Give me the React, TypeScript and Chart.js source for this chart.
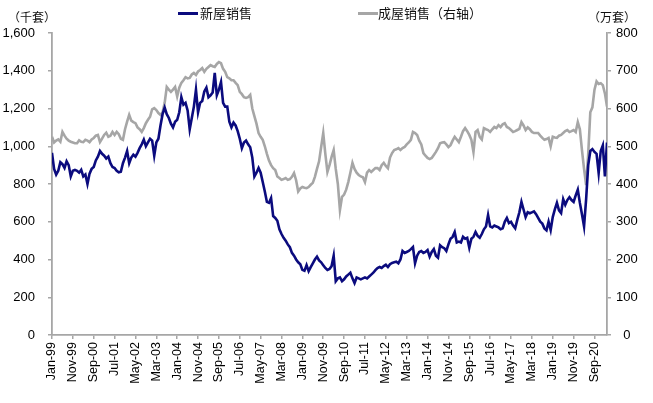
import React, { useEffect, useRef } from "react";
import { Chart, registerables } from "chart.js";

Chart.register(...registerables);

// Monthly, Jan 1999 – Mar 2021
const newHomeSales: number[] = [
  // 1999
  965, 880, 850, 870, 915, 905, 885, 920, 900, 840, 870, 875,
  // 2000
  870, 860, 875, 840, 850, 800, 855, 880, 890, 925, 945, 975,
  // 2001
  960, 950, 935, 945, 910, 890, 885, 870, 862, 865, 910, 940,
  // 2002
  975, 910, 940, 955, 945, 965, 990, 1010, 1035, 1000, 1020, 1040,
  // 2003
  1030, 950, 1020, 1040, 1110, 1170, 1205, 1170, 1150, 1120, 1100, 1130,
  // 2004
  1140, 1180, 1260, 1220, 1230, 1190, 1090, 1150, 1210, 1300, 1180, 1230,
  // 2005
  1240, 1290, 1310, 1260, 1270, 1285, 1389, 1270, 1300, 1340, 1230, 1210,
  // 2006
  1210, 1130, 1100, 1125, 1110, 1080, 1040, 990, 1020, 1030, 1010, 995,
  // 2007
  940, 840, 860, 885, 860, 811, 760, 705, 700, 725, 630, 620,
  // 2008
  605, 560, 535, 515, 500, 480, 465, 435, 420, 400, 385, 375,
  // 2009
  345, 340, 370, 338, 360, 380, 400, 415, 395, 385, 370, 355,
  // 2010
  345, 350, 365, 420, 285, 300, 305, 285, 295, 310, 320, 330,
  // 2011
  300, 275, 305, 300, 295, 300, 305, 300, 310, 320, 330, 344,
  // 2012
  355, 360, 355, 365, 372, 360, 375, 382, 385, 388, 380, 400,
  // 2013
  445, 435, 440, 445, 455, 466, 380, 420, 440, 445, 435, 440,
  // 2014
  450, 415, 440, 455, 420, 410, 475, 465, 460, 445, 480, 510,
  // 2015
  520, 545, 490, 495, 490, 520, 510, 515, 462, 510, 520, 546,
  // 2016
  525, 515, 535, 560, 575, 636, 575, 570, 580, 575, 570, 560,
  // 2017
  565, 600, 620, 593, 600, 580, 565, 610, 650, 705, 665, 625,
  // 2018
  650, 645, 650, 655, 640, 620, 600, 590, 565, 555, 600, 556,
  // 2019
  625, 665, 700, 660, 646, 720, 690, 715, 730, 715, 705, 740,
  // 2020
  770, 700, 640, 575, 720, 900, 975, 985, 970, 960, 858, 975,
  // 2021
  1005, 840, 1020,
];

const existingHomeSales: number[] = [
  // 1999
  525, 510, 515, 518, 512, 538, 528, 520, 515, 512, 510, 508,
  // 2000
  508, 516, 512, 511, 517, 515, 511, 518, 522, 528, 530, 511,
  // 2001
  520, 530, 536, 525, 528, 538, 530, 538, 532, 520, 517, 545,
  // 2002
  565, 583, 568, 564, 561, 550, 545, 538, 548, 561, 570, 578,
  // 2003
  598, 601, 596, 588, 583, 590, 615, 657, 650, 644, 650, 657,
  // 2004
  632, 655, 668, 675, 683, 680, 681, 690, 694, 689, 698, 702,
  // 2005
  707, 697, 705, 710, 715, 712, 710, 718, 723, 720, 705, 697,
  // 2006
  683, 680, 675, 675, 668, 662, 644, 638, 630, 628, 630, 636,
  // 2007
  600, 580, 560, 535, 525, 517, 500, 480, 462, 450, 442, 437,
  // 2008
  420, 416, 411, 413, 416, 411, 413, 419, 429, 410, 380, 388,
  // 2009
  392, 390, 389, 392, 398, 403, 419, 440, 460, 498, 535, 480,
  // 2010
  432, 450, 472, 490, 440, 400, 331, 366, 372, 385, 405, 430,
  // 2011
  456, 440, 430, 424, 420, 418, 405, 430, 437, 432, 437, 442,
  // 2012
  442, 437, 450, 456, 448, 442, 470, 482, 490, 492, 495, 490,
  // 2013
  495, 498, 505, 510, 517, 538, 535, 530, 515, 505, 482, 475,
  // 2014
  469, 466, 469, 477, 485, 495, 508, 510, 511, 505, 498, 503,
  // 2015
  515, 525, 518, 511, 525, 540, 548, 540, 530, 517, 485, 538,
  // 2016
  543, 525, 518, 548, 545, 543, 538, 545, 551, 548, 556, 551,
  // 2017
  558, 561, 551, 548, 543, 538, 540, 543, 546, 564, 555, 543,
  // 2018
  550, 545, 538, 535, 535, 535, 528, 522, 517, 519, 522, 500,
  // 2019
  525, 523, 522, 528, 530, 535, 540, 543, 538, 540, 543, 538,
  // 2020
  564, 545, 490, 440, 397, 480, 590, 603, 650, 672, 665, 667,
  // 2021
  662, 640, 605,
];

// one label every 10 months, starting Jan-99
const xTickLabels: string[] = [
  "Jan-99", "Nov-99", "Sep-00", "Jul-01", "May-02", "Mar-03", "Jan-04",
  "Nov-04", "Sep-05", "Jul-06", "May-07", "Mar-08", "Jan-09", "Nov-09",
  "Sep-10", "Jul-11", "May-12", "Mar-13", "Jan-14", "Nov-14", "Sep-15",
  "Jul-16", "May-17", "Mar-18", "Jan-19", "Nov-19", "Sep-20",
];

const seriesNames = ["新屋销售", "成屋销售（右轴）"];
const leftUnit = "（千套）";
const rightUnit = "（万套）";

const NAVY = "#0b0b7e";
const GRAY = "#a6a6a6";
const AXIS = "#a6a6a6";
const NUM_FONT = "'Liberation Sans', Arial, sans-serif";
const CJK_FONT = "'Noto Sans CJK SC', 'Noto Sans', sans-serif";

export default function App() {
  const canvasRef = useRef<HTMLCanvasElement | null>(null);

  useEffect(() => {
    const canvas = canvasRef.current;
    if (!canvas) return;
    const chart = new Chart(canvas, {
      type: "line",
      data: {
        datasets: [
          {
            label: seriesNames[0],
            data: newHomeSales.map((v, i) => ({ x: i, y: v })),
            borderColor: NAVY,
            borderWidth: 2.6,
            pointRadius: 0,
            tension: 0,
            yAxisID: "y",
          },
          {
            label: seriesNames[1],
            data: existingHomeSales.map((v, i) => ({ x: i, y: v })),
            borderColor: GRAY,
            borderWidth: 2.6,
            pointRadius: 0,
            tension: 0,
            yAxisID: "y1",
          },
        ],
      },
      options: {
        animation: false,
        responsive: false,
        devicePixelRatio: 1,
        layout: { padding: { top: 33, left: 0, right: 0, bottom: 0 } },
        plugins: { legend: { display: false }, tooltip: { enabled: false } },
        scales: {
          x: {
            type: "linear",
            min: 0,
            max: newHomeSales.length - 1,
            afterFit: (s: any) => {
              s.height = 68;
            },
            ticks: {
              stepSize: 10,
              includeBounds: false,
              autoSkip: false,
              maxRotation: 90,
              minRotation: 90,
              padding: 3,
              color: "#000",
              font: { family: NUM_FONT, size: 12.5 },
              callback: (v: any) => xTickLabels[Math.round(Number(v) / 10)] ?? "",
            },
            grid: {
              display: true,
              drawOnChartArea: false,
              drawTicks: true,
              tickLength: 4,
              color: AXIS,
              lineWidth: 1.5,
            },
            border: { display: true, color: AXIS, width: 1.8 },
          },
          y: {
            position: "left",
            min: 0,
            max: 1600,
            afterFit: (s: any) => {
              s.width = 52;
            },
            ticks: {
              stepSize: 200,
              padding: 13,
              color: "#000",
              font: { family: NUM_FONT, size: 13 },
              callback: (v: any) => Number(v).toLocaleString("en-US"),
            },
            grid: {
              display: true,
              drawOnChartArea: false,
              drawTicks: true,
              tickLength: 4,
              color: AXIS,
              lineWidth: 1.5,
            },
            border: { display: true, color: AXIS, width: 1.8 },
          },
          y1: {
            position: "right",
            min: 0,
            max: 800,
            afterFit: (s: any) => {
              s.width = 46;
            },
            ticks: {
              stepSize: 100,
              padding: 5,
              crossAlign: "center",
              color: "#000",
              font: { family: NUM_FONT, size: 13 },
            },
            grid: {
              display: true,
              drawOnChartArea: false,
              drawTicks: true,
              tickLength: 4,
              color: AXIS,
              lineWidth: 1.5,
            },
            border: { display: true, color: AXIS, width: 1.8 },
          },
        },
      },
    } as any);
    return () => chart.destroy();
  }, []);

  const textStyle: React.CSSProperties = {
    position: "absolute",
    fontFamily: CJK_FONT,
    color: "#111",
    whiteSpace: "nowrap",
    lineHeight: "16px",
  };

  return (
    <div
      style={{
        position: "absolute",
        left: 0,
        top: 0,
        width: 653,
        height: 403,
        background: "#fff",
        overflow: "hidden",
      }}
    >
      <canvas
        ref={canvasRef}
        width={653}
        height={403}
        style={{ position: "absolute", left: 0, top: 0, width: 653, height: 403 }}
      />
      <div style={{ ...textStyle, left: 8, top: 9, fontSize: 12 }}>{leftUnit}</div>
      <div style={{ ...textStyle, left: 588, top: 9, fontSize: 12 }}>{rightUnit}</div>
      <div
        style={{ position: "absolute", left: 178, top: 12, width: 20, height: 3, background: NAVY }}
      />
      <div style={{ ...textStyle, left: 200, top: 5, fontSize: 13 }}>{seriesNames[0]}</div>
      <div
        style={{ position: "absolute", left: 358, top: 12, width: 20, height: 3, background: GRAY }}
      />
      <div style={{ ...textStyle, left: 378, top: 5, fontSize: 13 }}>{seriesNames[1]}</div>
    </div>
  );
}
